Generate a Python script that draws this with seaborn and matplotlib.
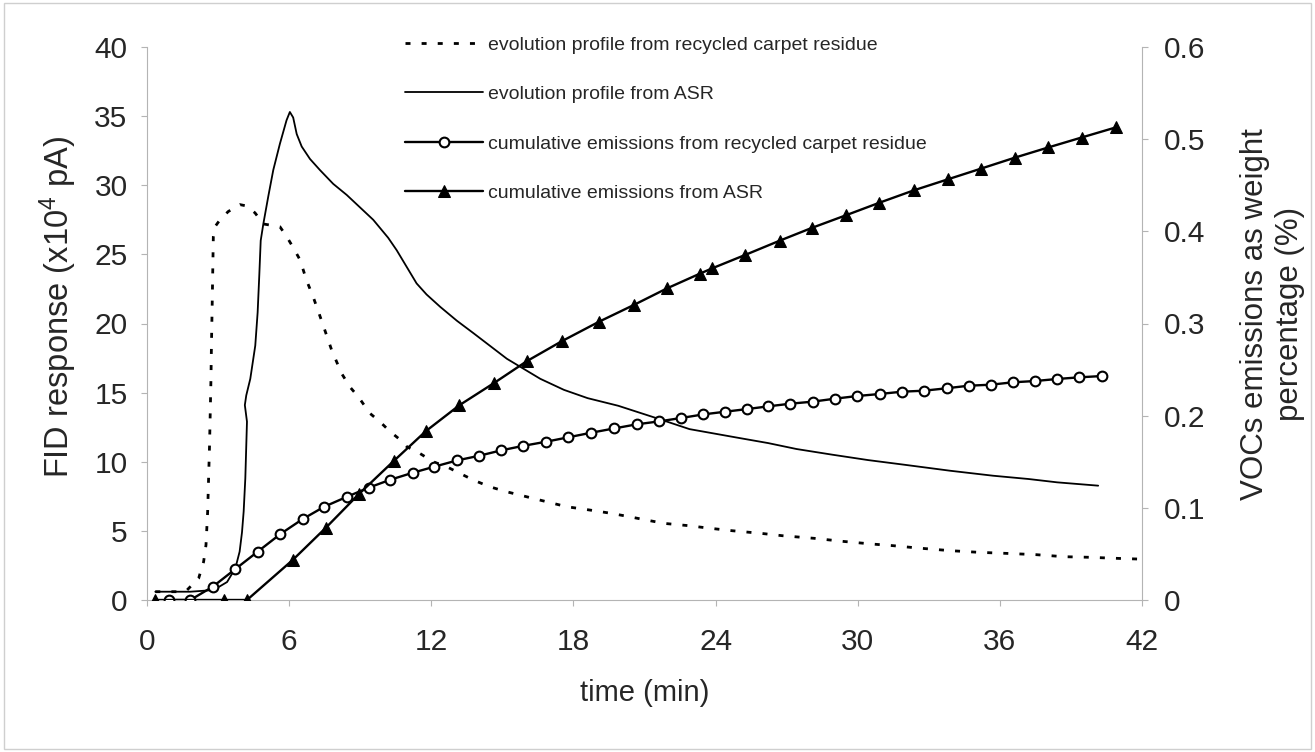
import matplotlib
matplotlib.use("Agg")
import matplotlib.pyplot as plt
import seaborn as sns
import pandas as pd
from matplotlib.patches import Rectangle

# FID evolution profile, recycled carpet residue (left axis, x10^4 pA)
t_carpet_fid = [0.35, 1.50, 1.69, 2.18, 2.39, 2.49, 2.56, 2.60, 2.64, 2.67,
                2.70, 2.72, 2.75, 2.80, 2.87, 3.08, 3.43, 3.92, 4.21, 4.56,
                4.91, 5.26, 5.61, 5.89, 6.17, 6.46, 6.74, 7.02, 7.37, 7.79,
                8.21, 8.57, 8.92, 9.41, 9.83, 10.25, 10.68, 10.96, 11.52, 12.08,
                12.65, 13.21, 13.77, 14.47, 15.18, 16.02, 16.86, 17.71, 18.68, 19.59,
                20.34, 21.09, 21.84, 22.90, 23.65, 24.71, 25.92, 26.82, 28.17, 29.38,
                30.59, 31.49, 32.54, 33.90, 35.10, 36.31, 37.52, 38.73, 39.78, 40.99,
                41.89]
fid_carpet = [0.6, 0.6, 0.72, 1.57, 2.77, 3.98, 6.39, 8.8, 11.2, 13.6,
              16.0, 18.4, 21.2, 26.3, 27.0, 27.5, 28.1, 28.6, 28.5, 28.0,
              27.2, 27.1, 27.0, 26.3, 25.5, 24.6, 23.1, 21.9, 20.2, 18.1,
              16.4, 15.4, 14.7, 13.5, 12.9, 12.2, 11.6, 11.1, 10.6, 10.0,
              9.64, 9.16, 8.68, 8.19, 7.83, 7.47, 7.11, 6.75, 6.51, 6.27,
              6.03, 5.78, 5.54, 5.37, 5.21, 5.01, 4.82, 4.65, 4.46, 4.24,
              4.05, 3.93, 3.76, 3.57, 3.45, 3.37, 3.28, 3.13, 3.09, 3.01,
              2.96]

# FID evolution profile, ASR (left axis)
t_asr_fid = [0.35, 1.83, 2.81, 3.38, 3.73, 3.91, 4.01, 4.08, 4.15, 4.22,
             4.13, 4.19, 4.36, 4.57, 4.67, 4.74, 4.80, 4.91, 5.12, 5.33,
             5.61, 5.89, 6.03, 6.17, 6.32, 6.53, 6.88, 7.30, 7.86, 8.43,
             8.99, 9.55, 10.18, 10.54, 10.96, 11.38, 11.80, 12.38, 13.08, 13.78,
             15.19, 16.60, 17.60, 18.60, 19.89, 21.62, 22.90, 24.86, 26.22, 27.42,
             28.93, 30.44, 31.94, 33.90, 35.71, 37.22, 38.42, 40.15]
fid_asr = [0.6, 0.6, 0.72, 1.3, 2.3, 3.5, 4.9, 6.4, 8.8, 12.9,
           14.1, 14.8, 16.0, 18.4, 20.8, 23.5, 26.0, 27.2, 29.2, 31.1,
           33.0, 34.7, 35.3, 34.9, 33.7, 32.8, 31.9, 31.1, 30.1, 29.3,
           28.4, 27.5, 26.2, 25.3, 24.1, 22.9, 22.1, 21.2, 20.2, 19.3,
           17.45, 16.0, 15.2, 14.6, 14.05, 13.09, 12.36, 11.76, 11.35, 10.92,
           10.51, 10.12, 9.79, 9.35, 8.99, 8.75, 8.51, 8.27]

# Cumulative VOC emissions, recycled carpet residue (right axis, wt %)
t_carpet_cum = [0.91, 1.83, 2.78, 3.73, 4.67, 5.63, 6.57, 7.48, 8.44, 9.35,
                10.27, 11.21, 12.12, 13.08, 14.02, 14.94, 15.89, 16.84, 17.76, 18.75,
                19.73, 20.67, 21.62, 22.55, 23.49, 24.41, 25.34, 26.22, 27.16, 28.10,
                29.03, 29.97, 30.92, 31.86, 32.80, 33.75, 34.68, 35.62, 36.55, 37.49,
                38.42, 39.36, 40.30]
cum_carpet = [0.0, 0.0, 0.0145, 0.0336, 0.0524, 0.0716, 0.0878, 0.1012, 0.112, 0.1218,
              0.1305, 0.138, 0.1446, 0.1514, 0.1565, 0.1623, 0.1673, 0.1717, 0.1764, 0.1815,
              0.1862, 0.1906, 0.1938, 0.1975, 0.2014, 0.2043, 0.2072, 0.2101, 0.213, 0.2152,
              0.2184, 0.2213, 0.2235, 0.226, 0.2271, 0.2297, 0.2325, 0.2336, 0.2362, 0.2376,
              0.2398, 0.2416, 0.243]

# Cumulative VOC emissions, ASR (right axis)
t_asr_cum = [0.35, 3.23, 4.22, 6.15, 7.55, 8.93, 10.41, 11.77, 13.19, 14.66,
             16.03, 17.51, 19.07, 20.54, 21.94, 23.33, 23.87, 25.26, 26.72, 28.06,
             29.51, 30.91, 32.37, 33.80, 35.20, 36.64, 38.04, 39.45, 40.90]
cum_asr = [0.0, 0.0, 0.0, 0.0434, 0.0784, 0.1146, 0.1507, 0.1832, 0.2114, 0.2356,
           0.2591, 0.2808, 0.3018, 0.320, 0.338, 0.354, 0.360, 0.3745, 0.390, 0.4037,
           0.4175, 0.431, 0.4445, 0.4564, 0.468, 0.480, 0.491, 0.5018, 0.5128]

series_labels = ["evolution profile from recycled carpet residue",
                 "evolution profile from ASR",
                 "cumulative emissions from recycled carpet residue",
                 "cumulative emissions from ASR"]

x_ticks = [0, 6, 12, 18, 24, 30, 36, 42]
left_ticks = [0, 5, 10, 15, 20, 25, 30, 35, 40]
right_ticks = [0, 0.1, 0.2, 0.3, 0.4, 0.5, 0.6]

sns.set_theme(style="white")
plt.rcParams["font.family"] = ["Liberation Sans", "DejaVu Sans"]
plt.rcParams["mathtext.fontset"] = "custom"
plt.rcParams["mathtext.rm"] = "Liberation Sans"
plt.rcParams["mathtext.it"] = "Liberation Sans:italic"

fig = plt.figure(figsize=(13.15, 7.52), dpi=100)
ax = fig.add_axes([147 / 1315, 1 - 600 / 752, (1142 - 147) / 1315, (600 - 47) / 752])
ax2 = ax.twinx()

df_cf = pd.DataFrame({"t": t_carpet_fid, "v": fid_carpet})
df_af = pd.DataFrame({"t": t_asr_fid, "v": fid_asr})
df_cc = pd.DataFrame({"t": t_carpet_cum, "v": cum_carpet})
df_ac = pd.DataFrame({"t": t_asr_cum, "v": cum_asr})

sns.lineplot(data=df_cf, x="t", y="v", ax=ax, sort=False, estimator=None,
             color="black", linewidth=2.0, linestyle=(0, (1.8, 4.0)),
             label=series_labels[0])
sns.lineplot(data=df_af, x="t", y="v", ax=ax, sort=False, estimator=None,
             color="black", linewidth=1.3, label=series_labels[1])
sns.lineplot(data=df_cc, x="t", y="v", ax=ax2, sort=False, estimator=None,
             color="black", linewidth=1.7, marker="o", markersize=7,
             markerfacecolor="white", markeredgecolor="black", markeredgewidth=1.5,
             label=series_labels[2])
sns.lineplot(data=df_ac, x="t", y="v", ax=ax2, sort=False, estimator=None,
             color="black", linewidth=1.7, marker="^", markersize=8,
             markerfacecolor="black", markeredgecolor="black",
             label=series_labels[3])

ax.set_xlim(0, 42)
ax.set_ylim(0, 40)
ax2.set_ylim(0, 0.6)
ax.set_xticks(x_ticks)
ax.set_yticks(left_ticks)
ax2.set_yticks(right_ticks)
ax2.set_yticklabels([f"{v:g}" for v in right_ticks])

spine_col = "#b4b4b4"
for a in (ax, ax2):
    for side, sp in a.spines.items():
        sp.set_color(spine_col)
        sp.set_linewidth(0.8)
    a.spines["top"].set_visible(False)
ax2.spines["left"].set_visible(False)
ax2.spines["bottom"].set_visible(False)
ax.spines["right"].set_visible(False)

ax.tick_params(axis="x", which="major", direction="out", length=4, width=0.8,
               color=spine_col, labelsize=21.5, pad=16, bottom=True)
ax.tick_params(axis="y", which="major", direction="out", length=4, width=0.8,
               color=spine_col, labelsize=21.5, pad=10, left=True)
ax2.tick_params(axis="y", which="major", direction="out", length=4, width=0.8,
                color=spine_col, labelsize=21.5, pad=12, right=True)

ax.set_xlabel("time (min)", fontsize=21, labelpad=17)
ax.set_ylabel(r"FID response (x10$^{4}$ pA)", fontsize=23.5)
ax.yaxis.set_label_coords(-0.068, 0.53)
ax2.set_ylabel("VOCs emissions as weight\npercentage (%)", fontsize=22.5,
               linespacing=1.2)
ax2.yaxis.set_label_coords(1.0985, 0.517)

# one combined legend for both axes
h1, l1 = ax.get_legend_handles_labels()
h2, l2 = ax2.get_legend_handles_labels()
for a in (ax, ax2):
    if a.get_legend() is not None:
        a.get_legend().remove()
ax2.legend(h1 + h2, l1 + l2, loc="upper left",
           bbox_to_anchor=(405 / 1315, 1 - 36 / 752), bbox_transform=fig.transFigure,
           frameon=False, fontsize=14, handlelength=4.0, handletextpad=0.25,
           labelspacing=1.64, borderpad=0, borderaxespad=0)

# thin border round the whole figure
fig.patches.append(Rectangle((0.003, 0.004), 0.994, 0.992, transform=fig.transFigure,
                             fill=False, edgecolor="#cfcfcf", linewidth=1.0))

fig.savefig("out.png", dpi=100)
